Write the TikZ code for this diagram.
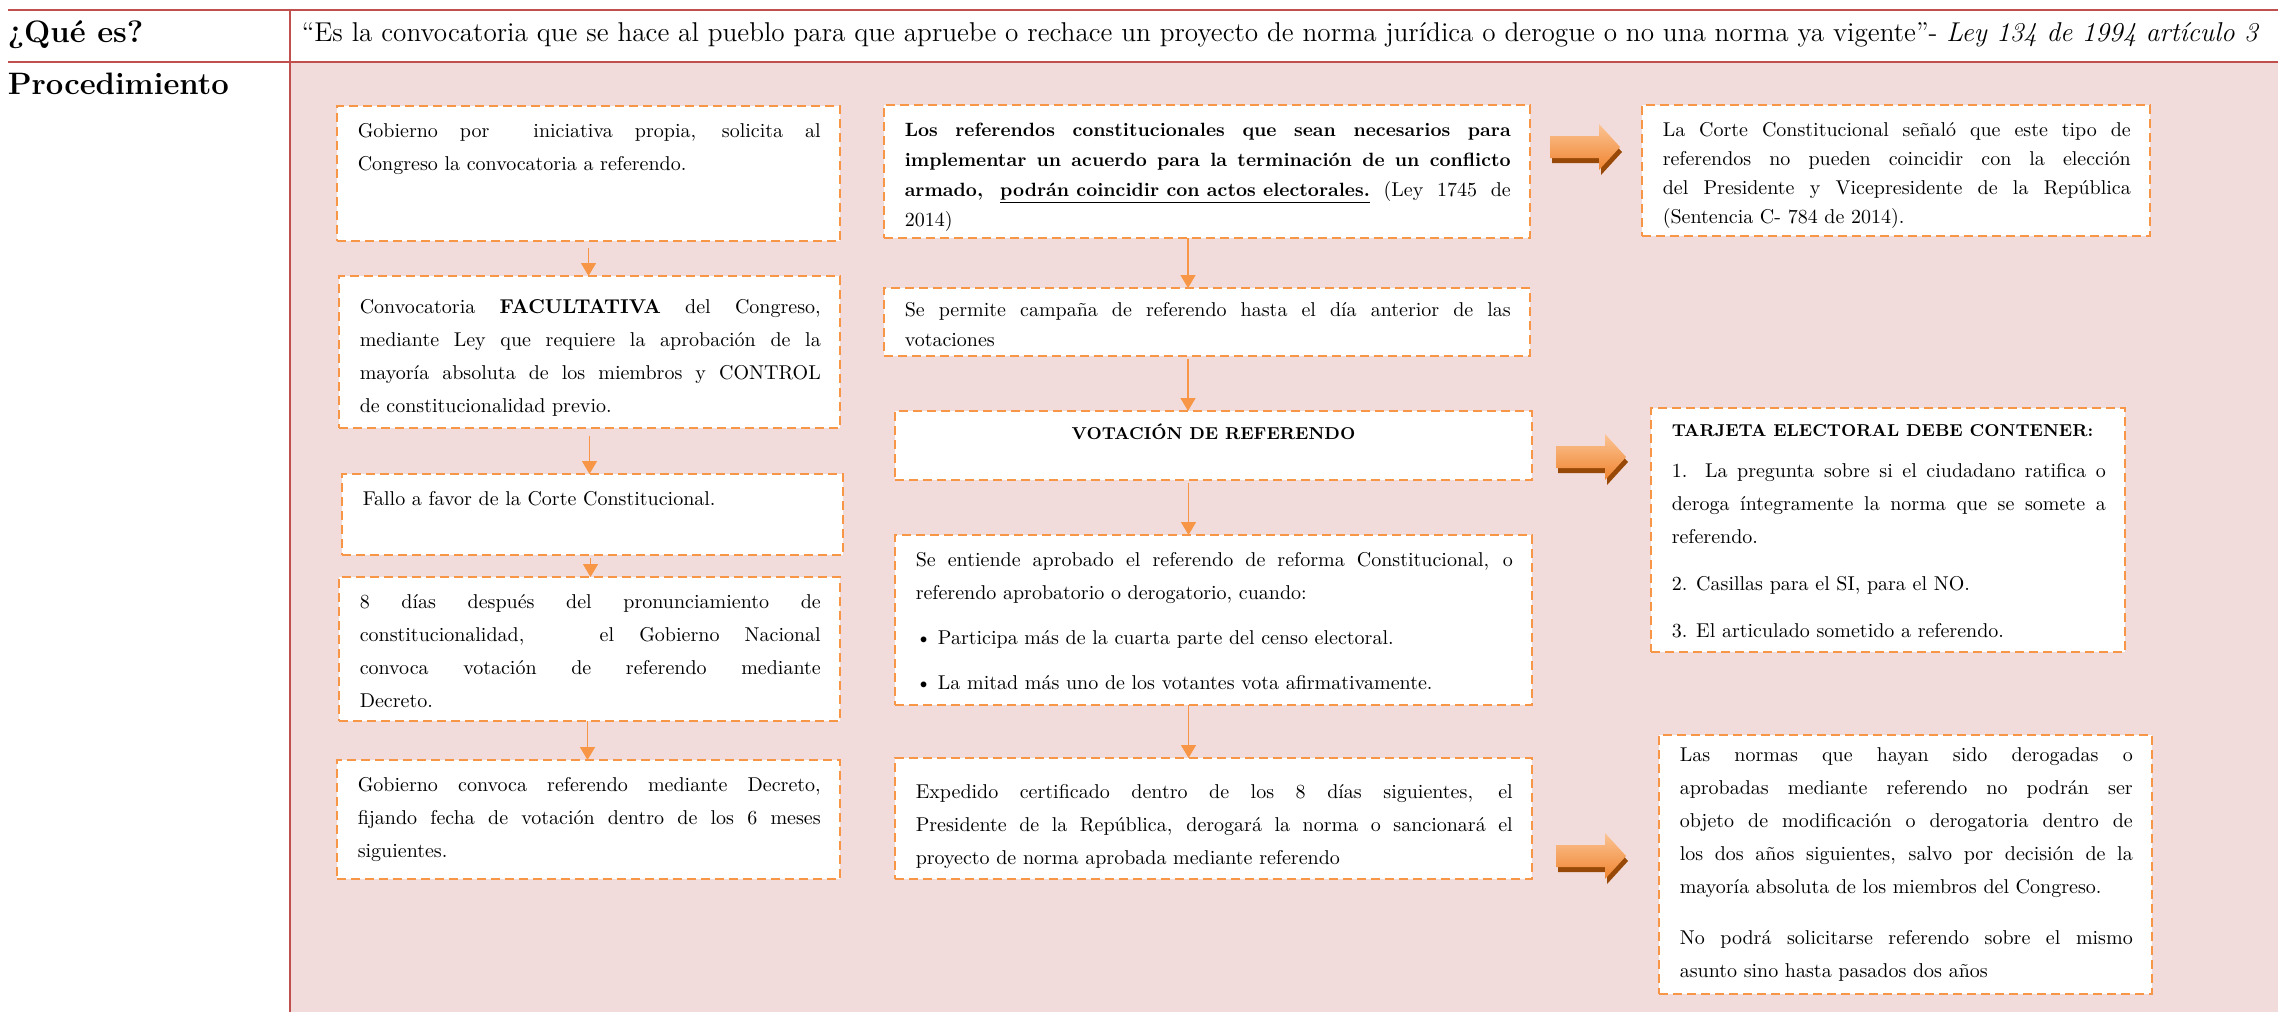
\documentclass[tikz,border=0pt]{standalone}
\usepackage{tikz}
\usetikzlibrary{calc}
\usetikzlibrary{arrows.meta}
\definecolor{tabred}{RGB}{192,80,77}
\definecolor{rowpink}{RGB}{242,220,219}
\definecolor{dashorange}{RGB}{247,150,70}
\definecolor{arrowtop}{RGB}{251,196,148}
\definecolor{arrowbot}{RGB}{240,132,48}
\definecolor{arrowside}{RGB}{152,72,7}
\newcommand{\bodyset}{\fontsize{10}{16.5}\selectfont\sloppy\hyphenpenalty=10000\relax}
\newcommand{\tightset}{\fontsize{10}{15}\selectfont\sloppy\hyphenpenalty=10000\relax}
\newcommand{\cornerset}{\fontsize{10}{14.5}\selectfont\sloppy\hyphenpenalty=10000\relax}
\newcommand{\headset}{\fontsize{13.6}{16}\selectfont}
\newcommand{\labelset}{\fontsize{15.5}{18}\selectfont\bfseries}
\newcommand{\titleset}{\fontsize{8.6}{16.5}\selectfont\bfseries}
\tikzset{every picture/.style={line width=0.75pt}}
\tikzset{
  stepbox/.style={draw=dashorange, fill=white, line width=0.9pt, dash pattern=on 4.5pt off 2.5pt, inner sep=0pt, outer sep=0pt, anchor=north west},
  steptext/.style={inner sep=0pt, anchor=base west, align=justify, font=\bodyset},
  flow/.style={draw=dashorange, line width=0.7pt, -{Triangle[length=6.5pt,width=7.5pt]}},
  tabline/.style={draw=tabred, line width=1.2pt},
}
\begin{document}
\begin{tikzpicture}[x=0.5pt,y=0.5pt,yscale=-1,xscale=1]
\useasboundingbox (0,0) rectangle (2278,1012);
\fill[white] (0,0) rectangle (2278,1012);

%Shape: Rectangle [procedimiento cell]
\fill[rowpink] (290,62) rectangle (2278,1012);
%Straight Lines [table]
\draw[tabline] (8,10) -- (2278,10);
\draw[tabline] (8,62) -- (2278,62);
\draw[tabline] (290,10) -- (290,1012);

% Text Node
\node[anchor=west, inner sep=0pt, font=\labelset] (quees) at (7,35) {¿Qué es?};
% Text Node
\node[anchor=west, inner sep=0pt, font=\labelset] (proced) at (7,84) {Procedimiento};
% Text Node
\node[anchor=west, inner sep=0pt, font=\headset] (definicion) at (301,35) {“Es la convocatoria que se hace al pueblo para que apruebe o rechace un proyecto de norma jurídica o derogue o no una norma ya vigente”- \textit{Ley 134 de 1994 artículo 3}};

%Shape: Rectangle [left column]
\node[stepbox, minimum width=251.5pt, minimum height=67.5pt] (b1) at (337,106) {};
\node[stepbox, minimum width=250.5pt, minimum height=76pt] (b2) at (339,276) {};
\node[stepbox, minimum width=250.5pt, minimum height=40.5pt] (b3) at (342,474) {};
\node[stepbox, minimum width=250.5pt, minimum height=72pt] (b4) at (339,577) {};
\node[stepbox, minimum width=251.5pt, minimum height=59.5pt] (b5) at (337,760) {};

%Shape: Rectangle [middle column]
\node[stepbox, minimum width=323pt, minimum height=66.5pt] (m1) at (884,105) {};
\node[stepbox, minimum width=323pt, minimum height=34pt] (m2) at (884,288) {};
\node[stepbox, minimum width=318.5pt, minimum height=34.5pt] (m3) at (895,411) {};
\node[stepbox, minimum width=318.5pt, minimum height=85pt] (m4) at (895,535) {};
\node[stepbox, minimum width=318.5pt, minimum height=60.5pt] (m5) at (895,758) {};

%Shape: Rectangle [right column]
\node[stepbox, minimum width=254pt, minimum height=65.5pt] (r1) at (1642,105) {};
\node[stepbox, minimum width=237pt, minimum height=122pt] (r2) at (1651,408) {};
\node[stepbox, minimum width=246.5pt, minimum height=129.5pt] (r3) at (1659,735) {};

% Text Node
\node[steptext, text width=231.5pt] (b1t) at ($(b1.north west)+(20,31)$) {Gobierno por\ \ iniciativa propia, solicita al \linebreak Congreso la convocatoria a referendo.};
% Text Node
\node[steptext, text width=230.5pt] (b2t) at ($(b2.north west)+(20,37)$) {Convocatoria \textbf{FACULTATIVA} del Congreso, \linebreak mediante Ley que requiere la aprobación de la \linebreak mayoría absoluta de los miembros y CONTROL \linebreak de constitucionalidad previo.};
% Text Node
\node[steptext, text width=230.5pt] (b3t) at ($(b3.north west)+(20,31)$) {Fallo a favor de la Corte Constitucional.};
% Text Node
\node[steptext, text width=230.5pt] (b4t) at ($(b4.north west)+(20,31)$) {8 días después del pronunciamiento de \linebreak constitucionalidad,\ \ \ el Gobierno Nacional \linebreak convoca votación de referendo mediante \linebreak Decreto.};
% Text Node
\node[steptext, text width=231.5pt] (b5t) at ($(b5.north west)+(20,31)$) {Gobierno convoca referendo mediante Decreto, \linebreak fijando fecha de votación dentro de los 6 meses \linebreak siguientes.};

% Text Node
\node[steptext, text width=303pt, font=\tightset] (m1t) at ($(m1.north west)+(20,31)$) {{\fontsize{9.6}{15}\selectfont\bfseries Los referendos constitucionales que sean necesarios para \linebreak implementar un acuerdo para la terminación de un conflicto \linebreak armado, \underline{podrán coincidir con actos electorales.}} (Ley 1745 de \linebreak 2014)};
% Text Node
\node[steptext, text width=303pt, font=\tightset] (m2t) at ($(m2.north west)+(20,28)$) {Se permite campaña de referendo hasta el día anterior de las \linebreak votaciones};
% Text Node
\node[anchor=base, inner sep=0pt, font=\titleset] (m3t) at ($(m3.north)+(0,28)$) {VOTACIÓN DE REFERENDO};
% Text Node
\node[steptext, text width=298.5pt] (m4t) at ($(m4.north west)+(20,31)$) {Se entiende aprobado el referendo de reforma Constitucional, o \linebreak referendo aprobatorio o derogatorio, cuando:\\[6pt]
\textbullet\ Participa más de la cuarta parte del censo electoral.\\[6pt]
\textbullet\ La mitad más uno de los votantes vota afirmativamente.};
% Text Node
\node[steptext, text width=298.5pt] (m5t) at ($(m5.north west)+(20,40)$) {Expedido certificado dentro de los 8 días siguientes, el \linebreak Presidente de la República, derogará la norma o sancionará el \linebreak proyecto de norma aprobada mediante referendo};

% Text Node
\node[steptext, text width=234pt, font=\cornerset] (r1t) at ($(r1.north west)+(20,31)$) {La Corte Constitucional señaló que este tipo de \linebreak referendos no pueden coincidir con la elección \linebreak del Presidente y Vicepresidente de la República \linebreak (Sentencia C- 784 de 2014).};
% Text Node
\node[steptext, text width=217pt] (r2t) at ($(r2.north west)+(20,28)$) {{\titleset TARJETA ELECTORAL DEBE CONTENER:}\\[4pt]
1. La pregunta sobre si el ciudadano ratifica o \linebreak deroga íntegramente la norma que se somete a \linebreak referendo.\\[7pt]
2. Casillas para el SI, para el NO.\\[7pt]
3. El articulado sometido a referendo.};
% Text Node
\node[steptext, text width=226.5pt] (r3t) at ($(r3.north west)+(20,26)$) {Las normas que hayan sido derogadas o \linebreak aprobadas mediante referendo no podrán ser \linebreak objeto de modificación o derogatoria dentro de \linebreak los dos años siguientes, salvo por decisión de la \linebreak mayoría absoluta de los miembros del Congreso.\\[9pt]
No podrá solicitarse referendo sobre el mismo \linebreak asunto sino hasta pasados dos años};

%Straight Lines [flow arrows]
\coordinate (b12) at ($(b1.south)+(0,7)$);
\draw[flow] (b12) -- (b12 |- b2.north);
\coordinate (b23) at ($(b2.south)+(0,8)$);
\draw[flow] (b23) -- (b23 |- b3.north);
\coordinate (b34) at ($(b3.south)+(-2,3)$);
\draw[flow] (b34) -- (b34 |- b4.north);
\coordinate (b45) at ($(b4.south)+(-2,0)$);
\draw[flow] (b45) -- (b45 |- b5.north);
\coordinate (m12) at ($(m1.south)+(-19,0)$);
\draw[flow] (m12) -- (m12 |- m2.north);
\coordinate (m23) at ($(m2.south)+(-19,3)$);
\draw[flow] (m23) -- (m23 |- m3.north);
\coordinate (m34) at ($(m3.south)+(-25,3)$);
\draw[flow] (m34) -- (m34 |- m4.north);
\coordinate (m45) at ($(m4.south)+(-25,0)$);
\draw[flow] (m45) -- (m45 |- m5.north);

%Shape: Right Arrow [3d block arrows]
\foreach \ax/\ay in {1550/147, 1556/457, 1556/856}{
\begin{scope}[shift={(\ax,\ay)}]
\fill[arrowside] (2,-6) -- (51,-6) -- (51,-18) -- (72,5) -- (51,28) -- (51,16) -- (2,16) -- cycle;
\shade[top color=arrowtop, bottom color=arrowbot] (0,-11) -- (49,-11) -- (49,-23) -- (70,0) -- (49,23) -- (49,11) -- (0,11) -- cycle;
\end{scope}
}

\end{tikzpicture}
\end{document}
